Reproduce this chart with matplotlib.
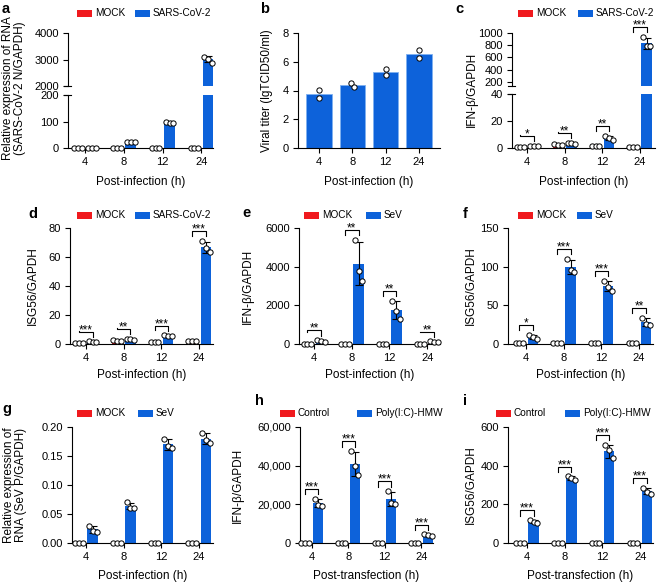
import numpy as np
import matplotlib
matplotlib.use("Agg")
import matplotlib.pyplot as plt
from matplotlib.lines import Line2D
from matplotlib.patches import Rectangle

plt.rcParams["font.family"] = ["Liberation Sans", "DejaVu Sans"]

W, H = 660, 582
RED = "#f01a1e"
BLUE = "#0d62da"

hours = ["4", "8", "12", "24"]

# a: SARS-CoV-2 N RNA
a_mock = [[0, 0, 0], [0, 0, 0], [0, 0, 0], [0, 0, 0]]
a_cov = [[0.5, 0.4, 0.6], [23, 22, 24], [100, 95, 93], [3110, 3020, 2880]]
# b: viral titer
b_titer = [[4.05, 3.5], [4.5, 4.25], [5.5, 5.05], [6.8, 6.25]]
# c: IFN-b, SARS-CoV-2
c_mock = [[1.0, 1.0, 1.0], [2.8, 2.4, 2.2], [1.6, 1.5, 1.4], [1.0, 0.9, 0.8]]
c_cov = [[1.5, 1.4, 1.3], [3.8, 3.5, 3.3], [9.2, 7.6, 6.2], [940, 785, 780]]
c_sig = ["*", "**", "**", "***"]
# d: ISG56, SARS-CoV-2
d_mock = [[1.0, 1.0, 1.0], [2.5, 2.2, 2.0], [1.3, 1.2, 1.1], [2.4, 2.0, 1.8]]
d_cov = [[1.8, 1.6, 1.5], [3.6, 3.2, 3.0], [6.0, 5.5, 5.3], [71, 66, 63.5]]
d_sig = ["***", "**", "***", "***"]
# e: IFN-b, SeV
e_mock = [[1, 1, 1], [1, 1, 1], [1, 1, 1], [1, 1, 1]]
e_sev = [[200, 150, 120], [5400, 3800, 3250], [2250, 1700, 1300], [130, 100, 80]]
e_sig = ["**", "**", "**", "**"]
# f: ISG56, SeV
f_mock = [[1, 1, 1], [1, 1, 1], [1, 1, 1], [1, 1, 1]]
f_sev = [[12, 9, 7], [110, 96, 93], [82, 74, 69], [34, 26, 25]]
f_sig = ["*", "***", "***", "**"]
# g: SeV P RNA
g_mock = [[0, 0, 0], [0, 0, 0], [0, 0, 0], [0, 0, 0]]
g_sev = [[0.030, 0.021, 0.019], [0.070, 0.061, 0.060], [0.180, 0.167, 0.163], [0.190, 0.177, 0.173]]
# h: IFN-b, poly(I:C)
h_ctrl = [[1, 1, 1], [1, 1, 1], [1, 1, 1], [1, 1, 1]]
h_poly = [[23000, 19800, 19200], [47500, 40000, 35000], [26800, 20800, 20300], [4400, 3900, 3500]]
h_sig = ["***", "***", "***", "***"]
# i: ISG56, poly(I:C)
i_ctrl = [[1, 1, 1], [1, 1, 1], [1, 1, 1], [1, 1, 1]]
i_poly = [[118, 110, 106], [345, 335, 325], [505, 480, 440], [285, 265, 255]]
i_sig = ["***", "***", "***", "***"]

fig = plt.figure(figsize=(W / 100, H / 100), dpi=100)
fig.set_facecolor("white")

OFF = 0.18
BW = 0.28
PTS = [-0.1, 0.0, 0.1]


def px_axes(left, right, top, bottom):
    return fig.add_axes([left / W, 1 - bottom / H, (right - left) / W, (bottom - top) / H])


def fline(xs, ys, lw=0.8, color="black"):
    fig.add_artist(Line2D([x / W for x in xs], [1 - y / H for y in ys],
                          transform=fig.transFigure, lw=lw, color=color))


def ftext(x, y, s, **kw):
    fig.text(x / W, 1 - y / H, s, **kw)


def style(ax, xlim, ylim, yticks, fmt, show_x=True):
    ax.set_xlim(xlim)
    ax.set_ylim(ylim)
    ax.patch.set_alpha(0)
    for s in ["top", "right"]:
        ax.spines[s].set_visible(False)
    ax.spines["left"].set_linewidth(0.8)
    ax.spines["bottom"].set_linewidth(0.8)
    ax.set_yticks(yticks)
    ax.set_yticklabels([fmt(v) for v in yticks])
    ax.tick_params(direction="out", length=3.5, width=0.8, labelsize=8, pad=3)
    if show_x:
        ax.set_xticks(range(len(hours)))
        ax.set_xticklabels(hours)
    else:
        ax.spines["bottom"].set_visible(False)
        ax.set_xticks([])


def legend(xr, xb, y, labels):
    for x, c, lab in [(xr, RED, labels[0]), (xb, BLUE, labels[1])]:
        fig.add_artist(Rectangle((x / W, 1 - (y + 3.5) / H), 15 / W, 7 / H,
                                 transform=fig.transFigure, color=c, lw=0))
        ftext(x + 18, y, lab, fontsize=7.2, va="center", ha="left")


def grouped(box, xlim, segs, ctrl, treat, sig=None, fmt=lambda v: f"{v:g}"):
    # segs: list of (ylim, yticks, top_px, bottom_px), lowest first
    left, right, _, _ = box
    axes = []
    for k, (yl, yt, tp, bp) in enumerate(segs):
        ax = px_axes(left, right, tp, bp)
        style(ax, xlim, yl, yt, fmt, show_x=(k == 0))
        axes.append(ax)

    def seg_of(v):
        for k, (yl, yt, tp, bp) in enumerate(segs):
            if v <= yl[1] or k == len(segs) - 1:
                return k
        return 0

    def ypx(v):
        yl, yt, tp, bp = segs[seg_of(v)]
        return bp - (v - yl[0]) / (yl[1] - yl[0]) * (bp - tp)

    def xpx(x):
        return left + (x - xlim[0]) / (xlim[1] - xlim[0]) * (right - left)

    x = np.arange(len(hours))
    for vals, dx, col in [(ctrl, -OFF, RED), (treat, OFF, BLUE)]:
        vals = np.array(vals, dtype=float)
        m = vals.mean(axis=1)
        sd = vals.std(axis=1, ddof=1)
        for ax in axes:
            ax.bar(x + dx, m, BW, color=col, lw=0, zorder=1)
        for j in range(len(hours)):
            ax = axes[seg_of(m[j])]
            if sd[j] > 0:
                ax.errorbar(x[j] + dx, m[j], yerr=sd[j], fmt="none", ecolor="black",
                            elinewidth=0.8, capsize=3, capthick=0.8, zorder=2, clip_on=False)
            for p, v in zip(PTS, vals[j]):
                axes[seg_of(v)].plot(x[j] + dx + p, v, "o", ms=3.8, mfc="white", mec="black",
                                     mew=0.7, zorder=3, clip_on=False)

    if len(segs) > 1:
        lx = xpx(xlim[0])
        for yy in (segs[0][2], segs[1][3]):
            fline([lx - 4, lx + 3], [yy, yy])

    if sig:
        c_arr = np.array(ctrl, dtype=float)
        t_arr = np.array(treat, dtype=float)
        for j, s in enumerate(sig):
            tmax = max(t_arr[j].max(), t_arr[j].mean() + t_arr[j].std(ddof=1))
            rb = ypx(tmax) - 4.6
            tp = rb - 5.2
            lb = min(rb, ypx(c_arr[j].max()) - 12)
            x0, x1 = xpx(j - OFF), xpx(j + OFF)
            fline([x0, x0, x1, x1], [lb, tp, tp, rb])
            ftext((x0 + x1) / 2, tp + 1.5, s, fontsize=8.5, ha="center", va="baseline")
    return axes


def xlabel(box, y, s):
    ftext((box[0] + box[1]) / 2, y, s, fontsize=8.5, ha="center", va="center")


def ylabel(x, y, s):
    ftext(x, y, s, fontsize=8.5, rotation=90, ha="center", va="center",
          multialignment="center", linespacing=1.1)


def letter(x, y, s):
    ftext(x, y, s, fontsize=10.5, fontweight="bold", ha="left", va="baseline")


comma = lambda v: f"{int(v):,}"
two = lambda v: f"{v:.2f}"

# ---- row 1
box_a = (68, 213, 33, 148)
grouped(box_a, (-0.44, 3.3),
        [((0, 200), [0, 100, 200], 95, 148), ((2000, 4000), [2000, 3000, 4000], 33, 86)],
        a_mock, a_cov)
legend(77, 135, 13, ["MOCK", "SARS-CoV-2"])
ylabel(14, 88, "Relative expression of RNA\n(SARS-CoV-2 N/GAPDH)")
xlabel(box_a, 182, "Post-infection (h)")
letter(2, 13, "a")

box_b = (298, 440, 33, 148)
ax = px_axes(*box_b)
style(ax, (-0.63, 3.63), (0, 8), [0, 2, 4, 6, 8], lambda v: f"{v:g}")
xb = np.arange(len(hours))
tb = np.array(b_titer)
ax.bar(xb, tb.mean(axis=1), 0.76, color=BLUE, edgecolor="#7fb0f0", lw=0.6, zorder=1)
for j in range(len(hours)):
    for p, v in zip([-0.05, 0.05], tb[j]):
        ax.plot(xb[j] + (p if j == 1 else 0), v, "o", ms=3.8, mfc="white", mec="black",
                mew=0.7, zorder=3, clip_on=False)
ylabel(267, 91, "Viral titer (lgTCID50/ml)")
xlabel(box_b, 182, "Post-infection (h)")
letter(260, 13, "b")

box_c = (512, 655, 33, 148)
grouped(box_c, (-0.4, 3.4),
        [((0, 40), [0, 20, 40], 94, 148), ((130, 1000), [200, 400, 600, 800, 1000], 33, 86)],
        c_mock, c_cov, c_sig)
legend(518, 578, 13, ["MOCK", "SARS-CoV-2"])
ylabel(472, 89, "IFN-β/GAPDH")
xlabel(box_c, 182, "Post-infection (h)")
letter(455, 13, "c")

# ---- row 2
box_d = (70, 213, 228, 344)
grouped(box_d, (-0.42, 3.37), [((0, 80), [0, 20, 40, 60, 80], 228, 344)], d_mock, d_cov, d_sig)
legend(77, 135, 215, ["MOCK", "SARS-CoV-2"])
ylabel(33, 286, "ISG56/GAPDH")
xlabel(box_d, 375, "Post-infection (h)")
letter(28, 218, "d")

box_e = (299, 440, 228, 344)
grouped(box_e, (-0.4, 3.34), [((0, 6000), [0, 2000, 4000, 6000], 228, 344)], e_mock, e_sev, e_sig)
legend(304, 366, 215, ["MOCK", "SeV"])
ylabel(248, 286, "IFN-β/GAPDH")
xlabel(box_e, 375, "Post-infection (h)")
letter(242, 217, "e")

box_f = (508, 653, 228, 344)
grouped(box_f, (-0.48, 3.37), [((0, 150), [0, 50, 100, 150], 228, 344)], f_mock, f_sev, f_sig)
legend(518, 577, 215, ["MOCK", "SeV"])
ylabel(471, 286, "ISG56/GAPDH")
xlabel(box_f, 375, "Post-infection (h)")
letter(463, 218, "f")

# ---- row 3
box_g = (72, 213, 427, 543)
grouped(box_g, (-0.37, 3.37), [((0, 0.2), [0, 0.05, 0.10, 0.15, 0.20], 427, 543)],
        g_mock, g_sev, fmt=two)
legend(77, 138, 413, ["MOCK", "SeV"])
ylabel(15, 485, "Relative expression of\nRNA (SeV P/GAPDH)")
xlabel(box_g, 576, "Post-infection (h)")
letter(2, 413, "g")

box_h = (300, 433, 427, 543)
grouped(box_h, (-0.32, 3.32), [((0, 60000), [0, 20000, 40000, 60000], 427, 543)],
        h_ctrl, h_poly, h_sig, fmt=comma)
legend(280, 357, 413, ["Control", "Poly(I:C)-HMW"])
ylabel(238, 485, "IFN-β/GAPDH")
xlabel(box_h, 576, "Post-transfection (h)")
letter(255, 405, "h")

box_i = (508, 653, 427, 543)
grouped(box_i, (-0.5, 3.34), [((0, 600), [0, 200, 400, 600], 427, 543)], i_ctrl, i_poly, i_sig)
legend(496, 565, 413, ["Control", "Poly(I:C)-HMW"])
ylabel(471, 485, "ISG56/GAPDH")
xlabel(box_i, 576, "Post-transfection (h)")
letter(463, 405, "i")

fig.savefig("out.png", dpi=100)
